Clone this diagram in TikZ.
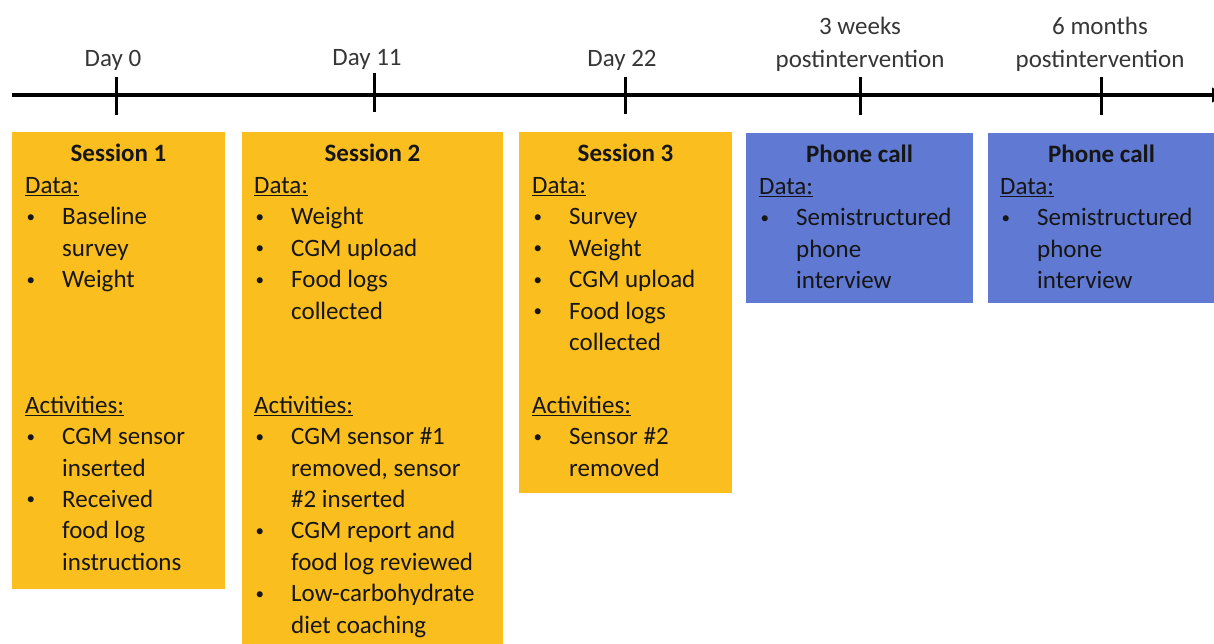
\documentclass[tikz,border=0pt]{standalone}
\usepackage{fontspec}
\setmainfont{Carlito}
\usetikzlibrary{arrows.meta,calc}
\definecolor{gold}{HTML}{FABF1E}
\definecolor{pblue}{HTML}{6079D2}
\definecolor{ink}{HTML}{161616}
\definecolor{lbl}{HTML}{363636}
\newcommand\bl{\makebox[37pt][l]{\hspace{1.5pt}\raisebox{2.5pt}{\fontsize{17}{17}\selectfont •}}}
\newcommand\cn{\hspace*{37pt}}
\tikzset{
  panel/.style={draw=none, inner sep=0pt, outer sep=0pt, anchor=north west},
  row/.style={inner sep=0pt, anchor=base west, text=ink, font=\fontsize{25}{30}\selectfont},
  ttl/.style={inner sep=0pt, anchor=base, text=ink, font=\fontsize{25}{30}\selectfont\bfseries},
  tlabel/.style={inner sep=0pt, anchor=base, text=lbl, font=\fontsize{25}{30}\selectfont},
  tickline/.style={line width=3pt, black},
  axis/.style={line width=4pt, black}
}
\begin{document}
\begin{tikzpicture}[x=1pt,y=-1pt]
\useasboundingbox (0,0) rectangle (1214,644);
\clip (0,0) rectangle (1214,644);
\fill[white] (0,0) rectangle (1214,644);
% timeline
\coordinate (tl0) at (12,95);
\coordinate (tl1) at (1226,95);
\draw[axis,-{Triangle[length=14pt,width=14pt]}] (tl0) -- (tl1);
\foreach \n/\x/\a/\b in {d0/116/77/115, d11/374/73/112, d22/625/77/114, w3/860/77/115, m6/1101/77/115}{
  \coordinate (\n a) at (\x,\a);
  \coordinate (\n b) at (\x,\b);
  \draw[tickline] (\n a) -- (\n b);
}
\node[tlabel] (l0) at (113,67) {Day 0};
\node[tlabel] (l11) at (367,66) {Day 11};
\node[tlabel] (l22) at (622,67) {Day 22};
\node[tlabel] (l3a) at (860,35) {3 weeks};
\node[tlabel] (l3b) at (860,68) {postintervention};
\node[tlabel] (l6a) at (1100,35) {6 months};
\node[tlabel] (l6b) at (1100,68) {postintervention};
% panels
\node[panel, fill=gold, minimum width=213pt, minimum height=457pt] (s1) at (12,132) {};
\node[panel, fill=gold, minimum width=261pt, minimum height=530pt] (s2) at (242,132) {};
\node[panel, fill=gold, minimum width=213pt, minimum height=361pt] (s3) at (519,132) {};
\node[panel, fill=pblue, minimum width=227pt, minimum height=170pt] (p1) at (746,133) {};
\node[panel, fill=pblue, minimum width=227pt, minimum height=170pt] (p2) at (988,133) {};
% titles
\node[ttl] (s1t) at ($(s1.north)+(0,30)$) {Session 1};
\node[ttl] (s2t) at ($(s2.north)+(0,30)$) {Session 2};
\node[ttl] (s3t) at ($(s3.north)+(0,30)$) {Session 3};
\node[ttl] (p1t) at ($(p1.north)+(0,30)$) {Phone call};
\node[ttl] (p2t) at ($(p2.north)+(0,30)$) {Phone call};
% contents
\foreach \t [count=\k from 1] in {{\underline{Data:}}, {\bl Baseline}, {\cn survey}, {\bl Weight}, {}, {}, {}, {\underline{Activities:}}, {\bl CGM sensor}, {\cn inserted}, {\bl Received}, {\cn food log}, {\cn instructions}}
  \node[row] (s1r\k) at (25,{162+31.4*\k}) {\t};
\foreach \t [count=\k from 1] in {{\underline{Data:}}, {\bl Weight}, {\bl CGM upload}, {\bl Food logs}, {\cn collected}, {}, {}, {\underline{Activities:}}, {\bl CGM sensor \#1}, {\cn removed, sensor}, {\cn \#2 inserted}, {\bl CGM report and}, {\cn food log reviewed}, {\bl Low-carbohydrate}, {\cn diet coaching}}
  \node[row] (s2r\k) at (254,{162+31.4*\k}) {\t};
\foreach \t [count=\k from 1] in {{\underline{Data:}}, {\bl Survey}, {\bl Weight}, {\bl CGM upload}, {\bl Food logs}, {\cn collected}, {}, {\underline{Activities:}}, {\bl Sensor \#2}, {\cn removed}}
  \node[row] (s3r\k) at (532,{162+31.4*\k}) {\t};
\foreach \t [count=\k from 1] in {{\underline{Data:}}, {\bl Semistructured}, {\cn phone}, {\cn interview}}
  \node[row] (p1r\k) at (759,{163+31.4*\k}) {\t};
\foreach \t [count=\k from 1] in {{\underline{Data:}}, {\bl Semistructured}, {\cn phone}, {\cn interview}}
  \node[row] (p2r\k) at (1000,{163+31.4*\k}) {\t};
\end{tikzpicture}
\end{document}
